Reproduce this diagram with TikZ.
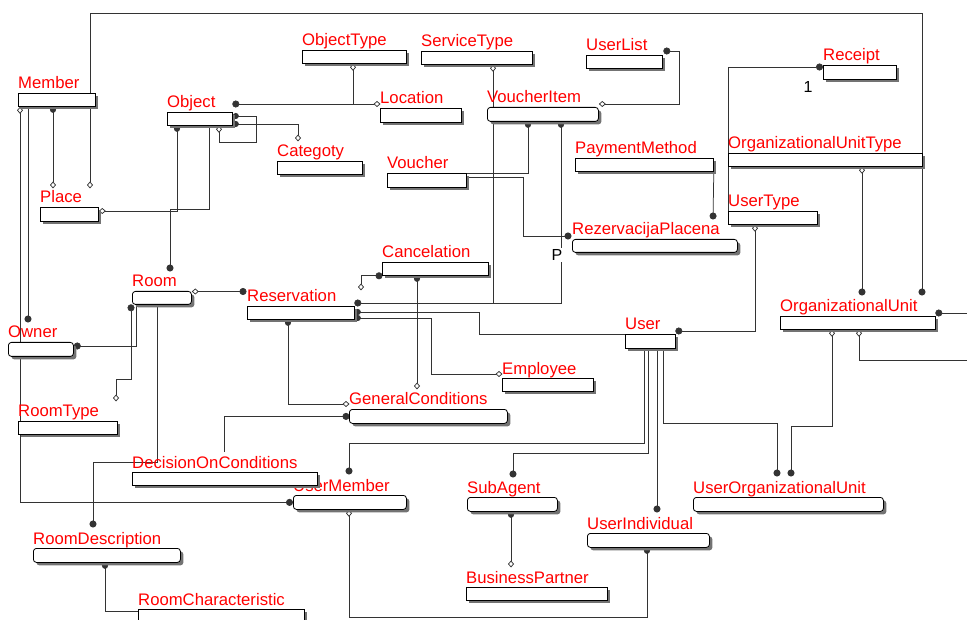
\documentclass[tikz,border=0pt]{standalone}
\usepackage{fontspec}
\setmainfont{Liberation Sans}
\usetikzlibrary{arrows.meta,calc,shadows,backgrounds}

\begin{document}
\begin{tikzpicture}[x=1pt,y=1pt,line join=miter,
	ent/.style={draw,fill=white,line width=0.8pt,inner sep=0pt,anchor=north west,
		drop shadow={shadow xshift=3pt,shadow yshift=-3pt,fill=black!55,opacity=1}},
	rent/.style={ent,rounded corners=3pt},
	lbl/.style={text=red,font=\fontsize{16.7}{20}\selectfont,inner sep=0pt,anchor=base west},
	cnt/.style={font=\fontsize{16}{20}\selectfont,inner sep=1pt},
	rel/.style={draw=black!80,line width=0.75pt},
	Fd/.tip={Circle[length=7pt]},
	Hd/.tip={Circle[length=6pt]},
	Od/.tip={Diamond[open,length=7pt,width=6pt]}]
		\useasboundingbox (0,0) rectangle (967,-620);
		% entities
		\node[ent,minimum width=77pt,minimum height=13pt] (Member) at (18,-93) {};
		\node[lbl] (Member-t) at ([yshift=4pt]Member.north west) {Member};
		\node[ent,minimum width=65pt,minimum height=13pt] (Object) at (167,-112) {};
		\node[lbl] (Object-t) at ([yshift=4pt]Object.north west) {Object};
		\node[ent,minimum width=58pt,minimum height=14pt] (Place) at (40,-207) {};
		\node[lbl] (Place-t) at ([yshift=4pt]Place.north west) {Place};
		\node[ent,minimum width=104pt,minimum height=13pt] (ObjectType) at (302,-50) {};
		\node[lbl] (ObjectType-t) at ([yshift=4pt]ObjectType.north west) {ObjectType};
		\node[ent,minimum width=111pt,minimum height=13pt] (ServiceType) at (421,-51) {};
		\node[lbl] (ServiceType-t) at ([yshift=4pt]ServiceType.north west) {ServiceType};
		\node[ent,minimum width=76pt,minimum height=13pt] (UserList) at (586,-55) {};
		\node[lbl] (UserList-t) at ([yshift=4pt]UserList.north west) {UserList};
		\node[ent,minimum width=81pt,minimum height=14pt] (Location) at (380,-108) {};
		\node[lbl] (Location-t) at ([yshift=4pt]Location.north west) {Location};
		\node[rent,minimum width=111pt,minimum height=14pt] (VoucherItem) at (487,-107) {};
		\node[lbl] (VoucherItem-t) at ([yshift=4pt]VoucherItem.north west) {VoucherItem};
		\node[ent,minimum width=85pt,minimum height=13pt] (Categoty) at (277,-161) {};
		\node[lbl] (Categoty-t) at ([yshift=4pt]Categoty.north west) {Categoty};
		\node[ent,minimum width=79pt,minimum height=14pt] (Voucher) at (387,-173) {};
		\node[lbl] (Voucher-t) at ([yshift=4pt]Voucher.north west) {Voucher};
		\node[ent,minimum width=138pt,minimum height=13pt] (PaymentMethod) at (575,-158) {};
		\node[lbl] (PaymentMethod-t) at ([yshift=4pt]PaymentMethod.north west) {PaymentMethod};
		\node[ent,minimum width=73pt,minimum height=14pt] (Receipt) at (823,-65) {};
		\node[lbl] (Receipt-t) at ([yshift=4pt]Receipt.north west) {Receipt};
		\node[ent,minimum width=194pt,minimum height=13pt] (OrganizationalUnitType) at (728,-153) {};
		\node[lbl] (OrganizationalUnitType-t) at ([yshift=4pt]OrganizationalUnitType.north west) {OrganizationalUnitType};
		\node[ent,minimum width=89pt,minimum height=13pt] (UserType) at (728,-211) {};
		\node[lbl] (UserType-t) at ([yshift=4pt]UserType.north west) {UserType};
		\node[rent,minimum width=165pt,minimum height=13pt] (RezervacijaPlacena) at (572,-239) {};
		\node[lbl] (RezervacijaPlacena-t) at ([yshift=4pt]RezervacijaPlacena.north west) {RezervacijaPlacena};
		\node[ent,minimum width=106pt,minimum height=13pt] (Cancelation) at (382,-262) {};
		\node[lbl] (Cancelation-t) at ([yshift=4pt]Cancelation.north west) {Cancelation};
		\node[rent,minimum width=59pt,minimum height=13pt] (Room) at (132,-291) {};
		\node[lbl] (Room-t) at ([yshift=4pt]Room.north west) {Room};
		\node[ent,minimum width=107pt,minimum height=13pt] (Reservation) at (247,-306) {};
		\node[lbl] (Reservation-t) at ([yshift=4pt]Reservation.north west) {Reservation};
		\node[rent,minimum width=65pt,minimum height=14pt] (Owner) at (8,-342) {};
		\node[lbl] (Owner-t) at ([yshift=4pt]Owner.north west) {Owner};
		\node[ent,minimum width=50pt,minimum height=14pt] (User) at (625,-334) {};
		\node[lbl] (User-t) at ([yshift=4pt]User.north west) {User};
		\node[ent,minimum width=155pt,minimum height=13pt] (OrganizationalUnit) at (780,-316) {};
		\node[lbl] (OrganizationalUnit-t) at ([yshift=4pt]OrganizationalUnit.north west) {OrganizationalUnit};
		\node[ent,minimum width=91pt,minimum height=13pt] (Employee) at (502,-378) {};
		\node[lbl] (Employee-t) at ([yshift=4pt]Employee.north west) {Employee};
		\node[ent,minimum width=99pt,minimum height=13pt] (RoomType) at (18,-421) {};
		\node[lbl] (RoomType-t) at ([yshift=4pt]RoomType.north west) {RoomType};
		\node[rent,minimum width=158pt,minimum height=14pt] (GeneralConditions) at (349,-409) {};
		\node[lbl] (GeneralConditions-t) at ([yshift=4pt]GeneralConditions.north west) {GeneralConditions};
		\node[rent,minimum width=113pt,minimum height=14pt] (UserMember) at (293,-495) {};
		\node[lbl] (UserMember-t) at ([yshift=4pt]UserMember.north west) {UserMember};
		\node[ent,minimum width=185pt,minimum height=13pt] (DecisionOnConditions) at (132,-472) {};
		\node[lbl] (DecisionOnConditions-t) at ([yshift=4pt]DecisionOnConditions.north west) {DecisionOnConditions};
		\node[rent,minimum width=90pt,minimum height=14pt] (SubAgent) at (467,-497) {};
		\node[lbl] (SubAgent-t) at ([yshift=4pt]SubAgent.north west) {SubAgent};
		\node[rent,minimum width=190pt,minimum height=14pt] (UserOrganizationalUnit) at (693,-497) {};
		\node[lbl] (UserOrganizationalUnit-t) at ([yshift=4pt]UserOrganizationalUnit.north west) {UserOrganizationalUnit};
		\node[rent,minimum width=122pt,minimum height=14pt] (UserIndividual) at (587,-533) {};
		\node[lbl] (UserIndividual-t) at ([yshift=4pt]UserIndividual.north west) {UserIndividual};
		\node[rent,minimum width=147pt,minimum height=14pt] (RoomDescription) at (33,-548) {};
		\node[lbl] (RoomDescription-t) at ([yshift=4pt]RoomDescription.north west) {RoomDescription};
		\node[ent,minimum width=141pt,minimum height=13pt] (BusinessPartner) at (466,-587) {};
		\node[lbl] (BusinessPartner-t) at ([yshift=4pt]BusinessPartner.north west) {BusinessPartner};
		\node[ent,minimum width=166pt,minimum height=14pt] (RoomCharacteristic) at (138,-609) {};
		\node[lbl] (RoomCharacteristic-t) at ([yshift=4pt]RoomCharacteristic.north west) {RoomCharacteristic};
		% cardinality marks
		\node[cnt] (one) at (808,-87) {1};
		\node[cnt,fill=white] (P) at (557,-255) {P};
		% relationships
		\begin{pgfonlayer}{background}
			\draw[rel,Fd-Od] ($(OrganizationalUnit.north -| 922,0)+(0,20.5)$) |- (90,-13) -- ($(Place.north -| 90,0)+(0,18.5)$);
			\draw[rel,Hd-Od] (Member.south -| 53,0) -- ($(Place.north -| 53,0)+(0,18.5)$);
			\draw[rel,-Fd] (Member.south -| 28,0) -- ($(Owner.north -| 28,0)+(0,19.5)$);
			\draw[rel,Od-Fd] (Member.south -| 20,0) |- (UserMember.west);
			\draw[rel,Hd-Od] (Object.south -| 177,0) |- ($(Place.north east)+(0,-4)$);
			\draw[rel,-Fd] (Object.south -| 209,0) |- (170,-209) -- ($(Room.north -| 170,0)+(0,19.5)$);
			\draw[rel,Hd-Od] (Object.east |- 0,-116) -| (256,-142) -| (Object.south -| 219,0);
			\draw[rel,Hd-Od] (Object.east |- 0,-124) -| ($(Categoty.north -| 298,0)+(0,19.5)$);
			\draw[rel,Fd-Od] ($(Object.north east)+(-0.5,8)$) -- ($(Location.north west)+(0.5,4)$);
			\draw[rel,Od-] (ObjectType.south -| 353,0) -- (353,-104);
			\draw[rel,Od-Fd] (ServiceType.south -| 493,0) |- ($(Reservation.north east)+(-0.5,3)$);
			\draw[rel,Hd-] (VoucherItem.south -| 561,0) |- (493,-303);
			\draw[rel,Hd-] (VoucherItem.south -| 528,0) |- (Voucher.north east);
			\draw[rel,-Fd] (Voucher.east |- 0,-177) -| (523,-236) -- ($(RezervacijaPlacena.north west)+(-0.5,3)$);
			\draw[rel,-Fd] (PaymentMethod.south east) -- ($(RezervacijaPlacena.north -| 713,0)+(0,19.5)$);
			\draw[rel,Fd-Od] ($(UserList.north east)+(0.5,4)$) -| (679,-104) -- ($(VoucherItem.north east)+(0,3)$);
			\draw[rel,Fd-] ($(Receipt.north west)+(0,-2)$) -| (UserType.north west);
			\draw[rel,Od-Fd] (OrganizationalUnitType.south -| 862,0) -- ($(OrganizationalUnit.north -| 862,0)+(0,20.5)$);
			\draw[rel,Od-Fd] (UserType.south -| 755,0) |- ($(User.north east)+(-0.5,3)$);
			\draw[rel,Fd-] ($(OrganizationalUnit.north east)+(-0.5,3)$) -- (967,-313);
			\draw[rel,Od-] (OrganizationalUnit.south -| 859,0) |- (967,-360);
			\draw[rel,Od-Fd] (OrganizationalUnit.south -| 832,0) |- (791,-426) -- ($(UserOrganizationalUnit.north -| 791,0)+(0,20.5)$);
			\draw[rel,-Fd] (User.south -| 663,0) |- (777,-423) -- ($(UserOrganizationalUnit.north -| 777,0)+(0,20.5)$);
			\draw[rel,-Fd] (User.south -| 657,0) -- ($(UserIndividual.north -| 657,0)+(0,20.5)$);
			\draw[rel,-Fd] (User.south -| 648,0) |- (513,-453) -- ($(SubAgent.north -| 513,0)+(0,19.5)$);
			\draw[rel,-Fd] (User.south -| 644,0) |- (349,-443) -- ($(UserMember.north -| 349,0)+(0,20.5)$);
			\draw[rel,Hd-] (Reservation.east |- 0,-312) -| (479,-334) -- (User.north west);
			\draw[rel,Hd-Od] (Reservation.east |- 0,-318) -| (431,-374) -- ($(Employee.north west)+(0.5,4)$);
			\draw[rel,Fd-Od] ($(Cancelation.south west)+(0.5,0)$) -| (361,-290.5);
			\draw[rel,Hd-Od] (Cancelation.south -| 417,0) -- ($(GeneralConditions.north -| 417,0)+(0,19.5)$);
			\draw[rel,Hd-Od] (Reservation.south -| 288,0) |- ($(GeneralConditions.north west)+(0.5,5)$);
			\draw[rel,-Fd] ($(DecisionOnConditions.north -| 224,0)+(0,20)$) |- ($(GeneralConditions.west)+(0.5,0)$);
			\draw[rel,Od-Fd] ($(Room.north east)+(0,-0.5)$) -- ($(Reservation.north west)+(-0.5,14.5)$);
			\draw[rel,Fd-] (Owner.east |- 0,-346) -| (Room.south -| 136,0);
			\draw[rel,Fd-Od] ($(Room.south -| 131,0)+(0,0.5)$) |- (116,-379) -- ($(RoomType.north -| 116,0)+(0,19.5)$);
			\draw[rel,-Fd] (Room.south -| 157,0) |- (93,-462) -- ($(RoomDescription.north -| 93,0)+(0,20.5)$);
			\draw[rel,Hd-] (RoomDescription.south -| 105,0) |- ($(RoomCharacteristic.north west)+(0,-2)$);
			\draw[rel,Hd-Od] (SubAgent.south -| 511,0) -- ($(BusinessPartner.north -| 511,0)+(0,19.5)$);
			\draw[rel,Od-Hd] (UserMember.south -| 349,0) |- (647,-617) -- (UserIndividual.south -| 647,0);
		\end{pgfonlayer}
\end{tikzpicture}
\end{document}
